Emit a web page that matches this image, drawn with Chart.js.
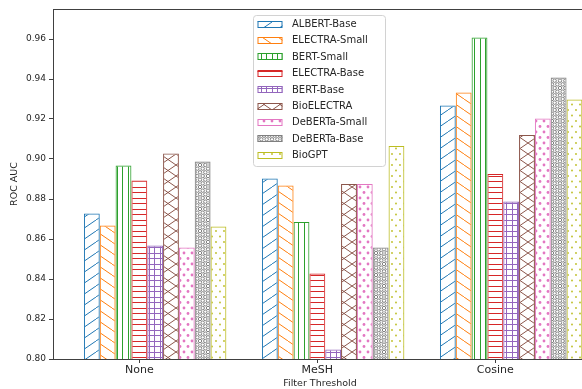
<!DOCTYPE html>
<html>
<head>
<meta charset="utf-8">
<script src="https://cdn.jsdelivr.net/npm/chart.js@4.4.1/dist/chart.umd.min.js"></script>
<style>
  html, body { margin: 0; padding: 0; background: #fff; overflow: hidden; }
  canvas { display: block; }
</style>
</head>
<body>
<canvas id="rocChart" width="587" height="389"></canvas>
<script>
const thresholds = ["None", "MeSH", "Cosine"];

const albertBase = [0.8728, 0.8902, 0.9268];
const electraSmall = [0.8667, 0.8868, 0.9333];
const bertSmall = [0.8968, 0.8685, 0.9608];
const electraBase = [0.8893, 0.8428, 0.8925];
const bertBase = [0.8567, 0.8048, 0.8788];
const bioElectra = [0.9028, 0.8875, 0.9120];
const debertaSmall = [0.8558, 0.8875, 0.9203];
const debertaBase = [0.8987, 0.8557, 0.9407];
const bioGpt = [0.8662, 0.9065, 0.9298];

const yMin = 0.80;
const yMax = 0.975;
const yStep = 0.02;
const xMin = -0.485;
const xMax = 2.515;

const textColor = "#262626";
const axisColor = "#404040";
const font = "DejaVu Sans";

const series = [
  { label: "ALBERT-Base", data: albertBase, color: "#1f77b4", hatch: "/" },
  { label: "ELECTRA-Small", data: electraSmall, color: "#ff7f0e", hatch: "\\" },
  { label: "BERT-Small", data: bertSmall, color: "#2ca02c", hatch: "|" },
  { label: "ELECTRA-Base", data: electraBase, color: "#d62728", hatch: "-" },
  { label: "BERT-Base", data: bertBase, color: "#9467bd", hatch: "+" },
  { label: "BioELECTRA", data: bioElectra, color: "#8c564b", hatch: "x" },
  { label: "DeBERTa-Small", data: debertaSmall, color: "#e377c2", hatch: "o" },
  { label: "DeBERTa-Base", data: debertaBase, color: "#7f7f7f", hatch: "O" },
  { label: "BioGPT", data: bioGpt, color: "#bcbd22", hatch: "." },
];

// hatch tiles, roughly like matplotlib's on this figure
function makePattern(kind, color) {
  const tile = document.createElement("canvas");
  const w = 16;
  const h = kind === "O" ? 22 : 11;
  tile.width = w;
  tile.height = h;
  const g = tile.getContext("2d");
  g.strokeStyle = color;
  g.fillStyle = color;
  g.lineWidth = 1;

  const line = (x1, y1, x2, y2) => {
    g.beginPath();
    g.moveTo(x1, y1);
    g.lineTo(x2, y2);
    g.stroke();
  };
  const wrapped = (x, y, draw) => {
    for (const dx of [-w, 0, w]) {
      for (const dy of [-h, 0, h]) draw(x + dx, y + dy);
    }
  };
  const stagger = (cols, rows, draw) => {
    for (let r = 0; r < rows; r++) {
      for (let c = 0; c < cols; c++) {
        const x = (c + (r % 2) * 0.5) * (w / cols);
        const y = r * (h / rows);
        wrapped(x, y, draw);
      }
    }
  };

  if (kind === "/" || kind === "x") {
    for (const k of [-1, 0, 1]) line(k * w, h, k * w + w, 0);
  }
  if (kind === "\\" || kind === "x") {
    for (const k of [-1, 0, 1]) line(k * w, 0, k * w + w, h);
  }
  if (kind === "|" || kind === "+") {
    [0.5, 5.5, 10.5].forEach((x) => line(x, 0, x, h));
  }
  if (kind === "-" || kind === "+") {
    [0.5, 5.5].forEach((y) => line(0, y, w, y));
  }
  if (kind === "o") {
    stagger(2, 2, (x, y) => {
      g.beginPath();
      g.arc(x, y, 1.4, 0, Math.PI * 2);
      g.fill();
    });
  }
  if (kind === "O") {
    stagger(3, 6, (x, y) => {
      g.beginPath();
      g.arc(x, y, 1.7, 0, Math.PI * 2);
      g.stroke();
    });
  }
  if (kind === ".") {
    stagger(2, 2, (x, y) => {
      g.beginPath();
      g.arc(x, y, 0.9, 0, Math.PI * 2);
      g.fill();
    });
  }
  return g.createPattern(tile, "repeat");
}

// two empty datasets in front so the tick sits under the 4th bar
const spacers = [0, 1].map(() => ({ label: "", data: [], spacer: true }));

const datasets = spacers.concat(series.map((s) => ({
  label: s.label,
  data: s.data.map((v, i) => ({ x: i, y: v })),
  backgroundColor: makePattern(s.hatch, s.color),
  borderColor: s.color,
  borderWidth: 1,
  borderSkipped: false,
})));

const frameAndLegend = {
  id: "frameAndLegend",
  afterDraw(chart) {
    const { ctx, chartArea } = chart;
    ctx.save();
    ctx.strokeStyle = axisColor;
    ctx.lineWidth = 1;
    ctx.beginPath();
    ctx.moveTo(chartArea.left, chartArea.top + 0.5);
    ctx.lineTo(chartArea.right, chartArea.top + 0.5);
    ctx.stroke();

    const bx = chartArea.left + 200.5;
    const by = chartArea.top + 6.5;
    const bw = 132;
    const bh = 151;
    ctx.beginPath();
    ctx.roundRect(bx, by, bw, bh, 3);
    ctx.fillStyle = "rgba(255,255,255,0.8)";
    ctx.fill();
    ctx.strokeStyle = "#d2d2d2";
    ctx.stroke();

    ctx.font = `10px "${font}"`;
    ctx.textBaseline = "middle";
    ctx.textAlign = "left";
    let row = 0;
    chart.data.datasets.forEach((ds) => {
      if (ds.spacer) return;
      const cy = by + 8.5 + row * 16.4;
      ctx.fillStyle = ds.backgroundColor;
      ctx.fillRect(bx + 4, Math.round(cy - 3.5), 25, 7);
      ctx.strokeStyle = ds.borderColor;
      ctx.strokeRect(bx + 4.5, Math.round(cy - 3.5) + 0.5, 24, 6);
      ctx.fillStyle = textColor;
      ctx.fillText(ds.label, bx + 38.5, cy + 0.5);
      row++;
    });
    ctx.restore();
  },
};

new Chart(document.getElementById("rocChart"), {
  type: "bar",
  data: { datasets },
  options: {
    responsive: false,
    animation: false,
    layout: { padding: { top: 9, left: 0, right: 0, bottom: 0 } },
    datasets: { bar: { categoryPercentage: 0.978, barPercentage: 1.0 } },
    plugins: {
      legend: { display: false },
      tooltip: { enabled: false },
    },
    scales: {
      x: {
        type: "linear",
        min: xMin,
        max: xMax,
        offset: false,
        afterBuildTicks(scale) {
          scale.ticks = thresholds.map((_, i) => ({ value: i }));
        },
        grid: { offset: false, drawOnChartArea: false, tickLength: 4, color: axisColor },
        border: { display: true, color: axisColor, width: 1 },
        ticks: {
          color: textColor,
          font: { family: font, size: 11 },
          padding: 1,
          callback: (v) => thresholds[v] ?? "",
        },
        title: {
          display: true,
          text: "Filter Threshold",
          color: textColor,
          font: { family: font, size: 9.5 },
          padding: { top: 0, bottom: 0 },
        },
        afterFit(scale) { scale.height = 30; },
      },
      y: {
        min: yMin,
        max: yMax,
        grid: { drawOnChartArea: false, tickLength: 4, color: axisColor },
        border: { display: true, color: axisColor, width: 1 },
        ticks: {
          stepSize: yStep,
          includeBounds: false,
          color: textColor,
          font: { family: font, size: 9 },
          padding: 3,
          callback: (v) => v.toFixed(2),
        },
        title: {
          display: true,
          text: "ROC AUC",
          color: textColor,
          font: { family: font, size: 9.5 },
          padding: { top: 9, bottom: 0 },
        },
        afterFit(scale) { scale.width = 53; },
      },
    },
  },
  plugins: [frameAndLegend],
});
</script>
</body>
</html>
